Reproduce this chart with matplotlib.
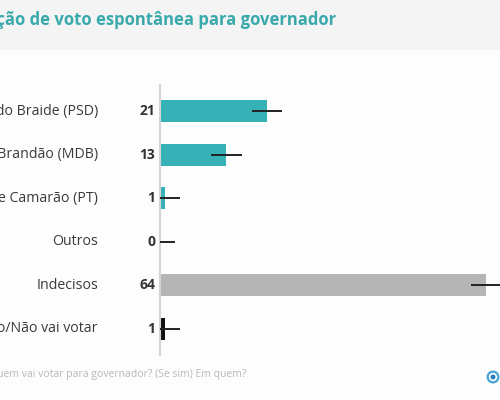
import matplotlib.pyplot as plt
from matplotlib.patches import Rectangle, Circle

plt.rcParams['font.family'] = ['Open Sans', 'DejaVu Sans']

# Data
candidatos = ['Eduardo Braide (PSD)', 'Carlos Brandão (MDB)', 'Felipe Camarão (PT)',
              'Outros', 'Indecisos', 'Branco/Nulo/Não vai votar']
votos = [21, 13, 1, 0, 64, 1]
margem = [3, 3, 3, 3, 3, 3]
cores = ['#36b2b7', '#36b2b7', '#36b2b7', '#36b2b7', '#b5b5b5', '#111111']

fig = plt.figure(figsize=(5, 4), dpi=100)
fig.patch.set_facecolor('#fdfdfd')

# header band
fig.patches.append(Rectangle((0, 1 - 50 / 400), 1, 50 / 400, transform=fig.transFigure,
                             facecolor='#f4f4f4', edgecolor='none', zorder=0))
fig.text(336 / 500, 1 - 20 / 400, 'Intenção de voto espontânea para governador',
         ha='right', va='center', fontsize=12, fontweight='bold', color='#3aa9ab')

ax = fig.add_axes([160 / 500, 1 - 355 / 400, 340 / 500, 270 / 400])
ax.set_facecolor('none')
y = list(range(len(candidatos)))
ax.barh(y, votos, height=0.5, color=cores, zorder=2)
for i in y:
    ax.plot([votos[i] - margem[i], votos[i] + margem[i]], [i, i],
            color='#222222', lw=1.4, zorder=3, solid_capstyle='butt')
ax.set_xlim(0, 66.7)
ax.set_ylim(5.6, -0.6)

for s in ['top', 'right', 'bottom']:
    ax.spines[s].set_visible(False)
ax.spines['left'].set_color('#d4d4d4')
ax.spines['left'].set_linewidth(1.5)
ax.set_xticks([])
ax.set_yticks([])

tr = ax.get_yaxis_transform()
for i in y:
    ax.text(-62 / 340, i, candidatos[i], transform=tr, ha='right', va='center',
            fontsize=10.2, color='#3a3a3a', clip_on=False)
    ax.text(-5 / 340, i, str(votos[i]), transform=tr, ha='right', va='center',
            fontsize=10, fontweight='bold', color='#333333', clip_on=False)

fig.text(247 / 500, 1 - 374 / 400,
         'Já decidiu em quem vai votar para governador? (Se sim) Em quem?',
         ha='right', va='center', fontsize=7.5, color='#b8b8b8')

# logo
fig.patches.append(Circle((493, 23), 6.5, transform=None, facecolor='#4aa6d6', edgecolor='none'))
fig.patches.append(Circle((493, 23), 4.2, transform=None, facecolor='white', edgecolor='none'))
fig.patches.append(Circle((493, 23), 2.5, transform=None, facecolor='#2f7fc0', edgecolor='none'))

plt.savefig('out.png', dpi=100, facecolor=fig.get_facecolor())
